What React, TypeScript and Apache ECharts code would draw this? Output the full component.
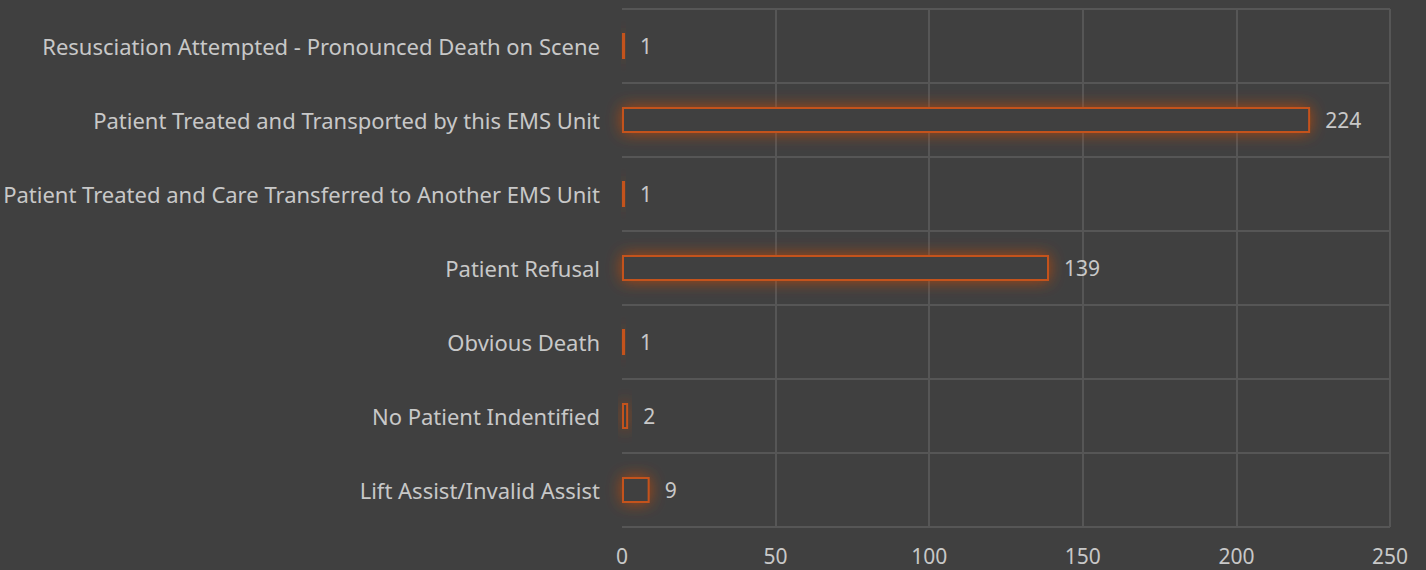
import React, { useEffect, useRef } from "react";
import * as echarts from "echarts";

const categories = [
  "Resusciation Attempted - Pronounced Death on Scene",
  "Patient Treated and Transported by this EMS Unit",
  "Patient Treated and Care Transferred to Another EMS Unit",
  "Patient Refusal",
  "Obvious Death",
  "No Patient Indentified",
  "Lift Assist/Invalid Assist",
];
const values = [1, 224, 1, 139, 1, 2, 9];
const xMin = 0;
const xMax = 250;
const xInterval = 50;

export default function App() {
  const ref = useRef<HTMLDivElement>(null);
  useEffect(() => {
    const chart = echarts.init(ref.current!, null, { renderer: "svg" });
    const textColor = "#c8c8c8";
    const font = "'Segoe UI', 'Noto Sans', sans-serif";
    chart.setOption({
      animation: false,
      backgroundColor: "#404040",
      grid: { left: 622, right: 36, top: 9, bottom: 43, containLabel: false },
      xAxis: {
        type: "value",
        min: xMin,
        max: xMax,
        interval: xInterval,
        axisLine: { show: false },
        axisTick: { show: false },
        axisLabel: { color: textColor, fontSize: 21, fontFamily: font, margin: 18 },
        splitLine: { show: true, showMinLine: false, lineStyle: { color: "#565656", width: 2 } },
      },
      yAxis: {
        type: "category",
        data: categories,
        inverse: true,
        axisLine: { show: false },
        axisTick: { show: false },
        axisLabel: { color: textColor, fontSize: 22, fontFamily: font, margin: 22 },
        splitLine: { show: true, lineStyle: { color: "#565656", width: 2 } },
      },
      series: [
        {
          type: "bar",
          data: values,
          barWidth: 26,
          itemStyle: {
            color: "#404040",
            borderColor: "#c4531c",
            borderWidth: 2,
            shadowBlur: 16,
            shadowColor: "rgba(210,75,15,0.75)",
          },
          label: {
            show: true,
            position: "right",
            distance: 15,
            color: textColor,
            fontSize: 21,
            fontFamily: font,
          },
        },
      ],
    });
    return () => chart.dispose();
  }, []);
  return <div ref={ref} style={{ width: 1426, height: 570, position: "absolute", left: 0, top: 0 }} />;
}
